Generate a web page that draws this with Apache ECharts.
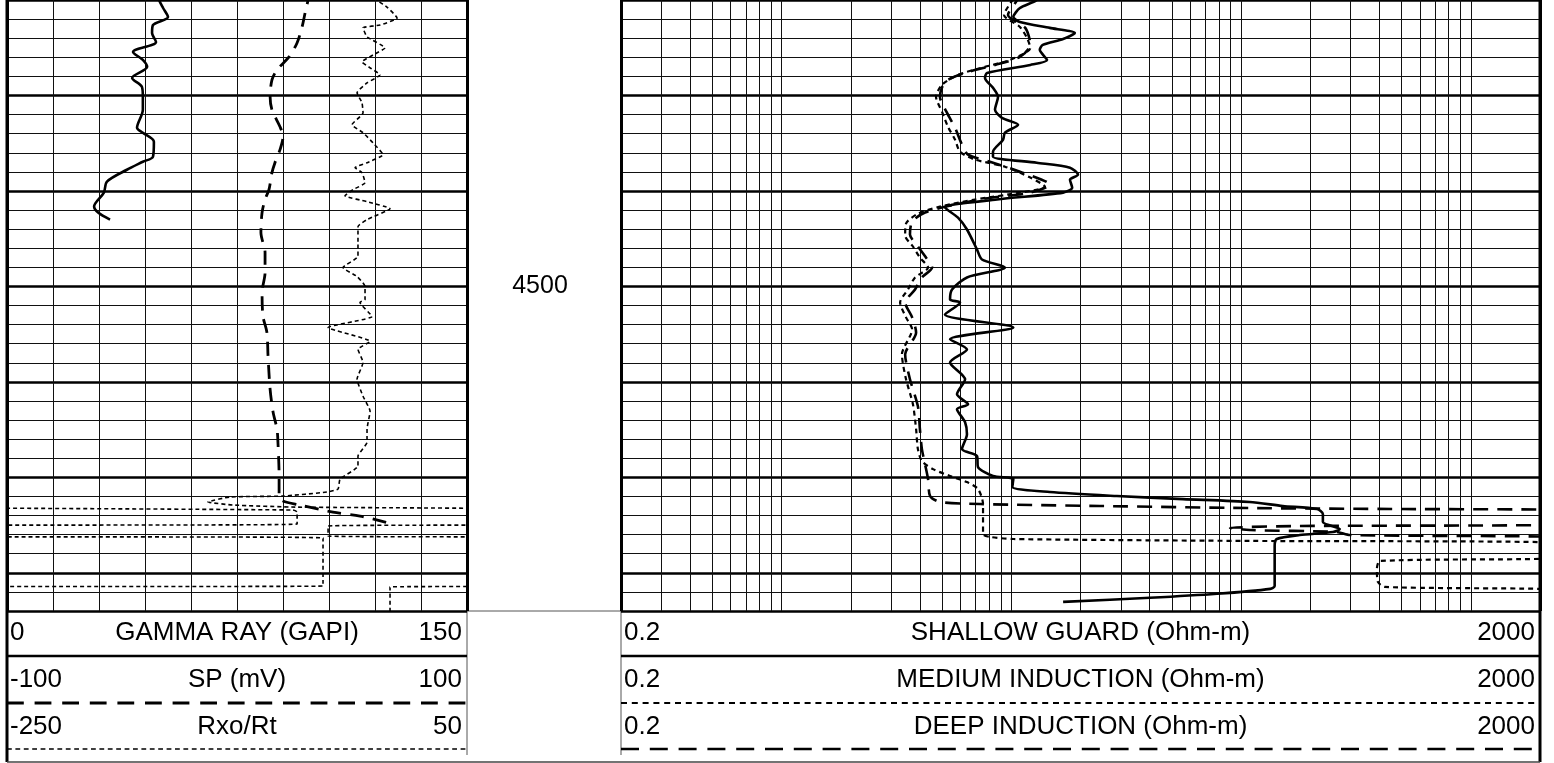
<!DOCTYPE html>
<html>
<head>
<meta charset="utf-8">
<script src="https://cdn.jsdelivr.net/npm/echarts@6/dist/echarts.min.js"></script>
<style>
  html, body { margin: 0; padding: 0; background: #fff; }
  #chart { width: 1554px; height: 763px; }
</style>
</head>
<body>
<div id="chart"></div>
<script>
// depth window (ft)
const DEPTH_TOP = 4485
const DEPTH_BOTTOM = 4517
const DEPTH_LABEL = 4500

// track 1 scales
const T1_NAMES = ['GAMMA RAY (GAPI)', 'SP (mV)', 'Rxo/Rt']
const T1_MIN = [0, -100, -250]
const T1_MAX = [150, 100, 50]

// track 2 scales (log)
const T2_NAMES = ['SHALLOW GUARD (Ohm-m)', 'MEDIUM INDUCTION (Ohm-m)', 'DEEP INDUCTION (Ohm-m)']
const T2_MIN = [0.2, 0.2, 0.2]
const T2_MAX = [2000, 2000, 2000]
const LOG_GRID = [0.3, 0.4, 0.5, 0.6, 0.7, 0.8, 0.9, 1, 2, 3, 4, 5, 6, 7, 8, 9, 10, 20, 30, 40, 50, 60, 70, 80, 90,
  100, 200, 300, 400, 500, 600, 700, 800, 900, 1000]

// curves: [value, depth]
const GR = [[48.9,4484.5],[49.6,4485.00],[50.9,4485.42],[52.5,4485.89],[47.6,4486.31],[47.3,4486.73],[48.6,4487.20],
  [41.1,4487.72],[44.3,4488.14],[45.7,4488.50],[40.8,4489.08],[44.0,4489.55],[44.3,4490.07],[44.3,4490.75],
  [42.4,4491.69],[44.3,4491.95],[47.9,4492.42],[47.6,4493.21],[44.3,4493.47],[39.1,4493.89],[32.6,4494.51],
  [31.6,4495.09],[28.4,4495.82],[29.7,4496.13],[33.6,4496.50]]

const SP = [[31.5,4484.5],[30.9,4485.00],[29.6,4485.68],[28.3,4486.41],[26.1,4487.25],[22.6,4487.98],[17.4,4488.66],
  [15.2,4489.18],[14.4,4490.07],[15.2,4490.75],[18.7,4491.64],[20.0,4492.16],[18.7,4492.84],[16.5,4493.52],
  [15.2,4494.04],[13.9,4494.93],[12.2,4495.45],[10.9,4496.13],[10.4,4497.18],[12.2,4498.23],[12.2,4499.27],
  [10.9,4500.32],[11.3,4501.57],[13.0,4502.41],[13.5,4503.66],[14.4,4505.39],[15.7,4506.59],[17.4,4507.48],
  [17.8,4508.16],[18.3,4509.93],[18.3,4510.98],[20.0,4511.24],[27.4,4511.45],[41.7,4511.82],[53.5,4512.03],
  [64.4,4512.34],[67.0,4512.42]]

const RXO_RT = [[-12.0,4484.5],[-8.7,4485.00],[-2.2,4485.37],[4.4,4485.94],[-6.7,4486.31],[-17.8,4486.46],
  [-15.2,4486.93],[-3.5,4487.51],[-11.3,4487.88],[-18.5,4488.24],[-13.2,4488.55],[-6.7,4488.92],[-15.2,4489.34],
  [-21.7,4489.86],[-18.5,4490.38],[-17.8,4490.91],[-25.0,4491.53],[-17.8,4491.95],[-11.3,4492.48],[-4.8,4493.10],
  [-15.2,4493.52],[-23.0,4493.78],[-18.5,4494.04],[-16.5,4494.57],[-24.3,4494.93],[-29.6,4495.25],[-15.2,4495.56],
  [-0.2,4495.93],[-15.2,4496.50],[-21.1,4496.87],[-21.1,4497.91],[-21.1,4498.43],[-30.9,4499.01],[-21.7,4499.48],
  [-16.5,4500.00],[-16.5,4500.68],[-19.8,4500.84],[-11.9,4501.57],[-40.6,4502.15],[-13.2,4502.88],[-21.1,4503.30],
  [-17.8,4503.98],[-21.7,4504.86],[-17.8,4505.75],[-13.2,4506.54],[-15.2,4507.48],[-15.2,4508.16],[-21.1,4508.89],
  [-21.1,4509.41],[-32.8,4510.09],[-34.1,4510.61],[-41.3,4510.77],[-70.0,4510.98],[-104.6,4511.03],[-118.9,4511.29],
  [-102.6,4511.45],[-60.9,4511.56],[236.5,4511.71],[239.2,4511.82],[239.2,4512.44],[-40.6,4512.55],[-40.6,4513.07],
  [256.1,4513.18],[256.1,4515.69],[-0.2,4515.74],[-0.2,4517.2]]

const SHALLOW = [[13.5,4484.5],[12.9,4485.00],[10.9,4485.42],[10.2,4485.89],[10.9,4486.15],[14.7,4486.46],
  [18.9,4486.73],[16.8,4487.04],[13.7,4487.35],[13.3,4487.61],[14.3,4488.14],[12.1,4488.40],[7.84,4488.82],
  [7.68,4489.08],[8.32,4489.60],[8.75,4490.07],[8.49,4490.75],[9.10,4491.17],[10.7,4491.53],[9.38,4491.95],
  [9.20,4492.32],[8.32,4492.95],[8.32,4493.21],[12.9,4493.52],[18.0,4493.78],[19.5,4494.15],[18.0,4494.41],
  [18.4,4494.83],[16.8,4495.09],[8.66,4495.45],[5.14,4495.87],[5.86,4496.40],[6.41,4497.02],[7.09,4498.07],
  [7.45,4498.59],[9.38,4499.01],[6.41,4499.53],[5.52,4500.16],[5.41,4500.68],[5.98,4500.84],[5.14,4501.47],
  [10.2,4502.15],[5.41,4502.77],[6.41,4503.30],[5.41,4503.98],[6.29,4504.86],[5.80,4505.65],[6.48,4506.17],
  [5.80,4506.43],[6.29,4507.11],[6.41,4507.74],[6.10,4508.52],[7.09,4508.89],[7.16,4509.46],[8.32,4509.93],
  [10.2,4510.09],[10.1,4510.51],[14.7,4510.77],[28.8,4510.98],[55.9,4511.14],[109,4511.29],[152,4511.50],
  [214,4511.66],[227,4511.92],[227,4512.34],[269,4512.71],[251,4512.86],[180,4513.02],[143,4513.23],
  [140,4513.59],[140,4515.69],[134,4515.84],[78.6,4516.10],[40.1,4516.31],[16.8,4516.52]]

const MEDIUM = [[10.5,4484.5],[10.1,4485.00],[9.29,4485.78],[10.9,4486.41],[11.7,4486.99],[12.1,4487.51],
  [9.87,4488.14],[7.68,4488.50],[5.86,4488.92],[4.99,4489.44],[4.70,4490.07],[4.99,4490.85],[5.30,4491.64],
  [5.69,4492.32],[5.98,4492.95],[6.95,4493.36],[9.38,4493.73],[12.1,4494.30],[14.0,4494.78],[10.9,4495.09],
  [6.95,4495.45],[4.89,4495.82],[3.92,4496.19],[3.48,4496.71],[3.45,4497.34],[3.73,4497.91],[4.00,4498.49],
  [4.34,4499.01],[3.81,4499.53],[3.55,4500.16],[3.28,4500.84],[3.48,4501.62],[3.70,4502.25],[3.34,4503.56],
  [3.48,4504.86],[3.73,4506.17],[3.85,4507.48],[3.92,4508.52],[4.08,4509.15],[4.56,4509.57],[5.41,4509.93],
  [6.41,4510.25],[7.16,4510.61],[7.53,4511.40],[7.53,4512.97],[8.07,4513.12],[10.2,4513.23],[109,4513.33],
  [2000,4513.39],[9000,4513.7],[9000,4514.0],[2000,4514.27],[402,4514.38],[390,4514.80],[394,4515.48],
  [423,4515.74],[2000,4515.84],[9000,4516.1]]

const DEEP = [[11.0,4484.5],[10.6,4485.00],[9.67,4485.78],[11.5,4486.46],[12.1,4487.35],[10.9,4487.98],
  [8.49,4488.40],[6.29,4488.82],[5.14,4489.29],[4.89,4490.07],[5.25,4490.91],[5.69,4491.69],[6.10,4492.58],
  [6.48,4493.10],[8.07,4493.47],[10.9,4493.99],[14.7,4494.67],[12.1,4495.09],[7.68,4495.40],[5.41,4495.77],
  [4.21,4496.13],[3.70,4496.60],[3.62,4497.28],[3.92,4497.91],[4.25,4498.49],[4.52,4499.01],[4.08,4499.53],
  [3.81,4500.16],[3.45,4500.84],[3.70,4501.62],[3.85,4502.41],[3.45,4503.56],[3.62,4504.86],[3.92,4506.28],
  [4.00,4507.48],[4.08,4508.52],[4.21,4509.31],[4.34,4510.09],[4.43,4510.98],[4.89,4511.29],[7.30,4511.40],
  [24.3,4511.50],[109,4511.61],[492,4511.66],[2000,4511.69],[9000,4511.9],[9000,4512.3],[2000,4512.50],
  [180,4512.55],[89.5,4512.65],[109,4512.76],[261,4512.86],[298,4513.02],[2000,4513.10],[9000,4513.3]]

// ── styles ────────────────────────────────────────────
const FONT = '"Liberation Sans", Arial, sans-serif'
const FONT_SIZE = 26
const THIN = { color: '#111', width: 1 }
const THICK = { color: '#000', width: 2.5 }
const T1_STYLE = [
  { width: 2.6, type: 'solid', smooth: 0.3 },
  { width: 2.8, type: [14, 9], smooth: 0.3 },
  { width: 1.6, type: [4, 3], smooth: 0.15 },
]
const T2_STYLE = [
  { width: 2.6, type: 'solid', smooth: 0.25 },
  { width: 2.2, type: [5, 4], smooth: 0.25 },
  { width: 2.6, type: [15, 9], smooth: 0.25 },
]

const chart = echarts.init(document.getElementById('chart'), null, { renderer: 'canvas' })

const hidden = { axisLine: { show: false }, axisTick: { show: false }, axisLabel: { show: false }, splitLine: { show: false } }
const gridOnly = (ls) => ({
  axisLine: { show: false }, axisTick: { show: false }, axisLabel: { show: false },
  splitLine: { show: true, lineStyle: { color: ls.color, width: ls.width } },
})
const depthAxis = (gi, step, ls) => ({
  gridIndex: gi, type: 'value', inverse: true, min: DEPTH_TOP, max: DEPTH_BOTTOM, interval: step, ...gridOnly(ls),
})

function curve(name, data, xi, yi, st) {
  return {
    type: 'line', name, data, xAxisIndex: xi, yAxisIndex: yi, symbol: 'none', clip: true, z: 5,
    smooth: st.smooth,
    lineStyle: { color: '#000', width: st.width, type: st.type, cap: 'butt', join: 'round' },
    silent: true,
  }
}

// legend rows
const ROW_TEXT_Y = [633, 680, 727]
const ROW_LINE_Y = [656, 703, 749]
function legendCell(names, mins, maxs, styles, x0, x1) {
  const els = []
  names.forEach((n, i) => {
    const ty = ROW_TEXT_Y[i]
    const txt = (text, x, align) => ({
      type: 'text', silent: true,
      style: { text, x, y: ty, font: FONT_SIZE + 'px ' + FONT, fill: '#000', textAlign: align, textVerticalAlign: 'middle', align, verticalAlign: 'middle' },
    })
    els.push(txt(String(mins[i]), x0 + 3, 'left'))
    els.push(txt(n, (x0 + x1) / 2, 'center'))
    els.push(txt(String(maxs[i]), x1 - 5, 'right'))
    const st = styles[i]
    els.push({
      type: 'line', silent: true,
      shape: { x1: x0, y1: ROW_LINE_Y[i], x2: x1, y2: ROW_LINE_Y[i] },
      style: { stroke: '#000', lineWidth: st.width, lineDash: st.type === 'solid' ? null : st.type.map(v => v * 1.2) },
    })
  })
  return els
}

const frame = [
  { type: 'line', shape: { x1: 7, y1: 0, x2: 7, y2: 762 }, style: { stroke: '#000', lineWidth: 3 } },
  { type: 'line', shape: { x1: 1540, y1: 0, x2: 1540, y2: 762 }, style: { stroke: '#000', lineWidth: 3 } },
  { type: 'line', shape: { x1: 7, y1: 762, x2: 1540, y2: 762 }, style: { stroke: '#444', lineWidth: 1.5 } },
  { type: 'line', shape: { x1: 467, y1: 611, x2: 467, y2: 755 }, style: { stroke: '#555', lineWidth: 1 } },
  { type: 'line', shape: { x1: 621, y1: 611, x2: 621, y2: 755 }, style: { stroke: '#555', lineWidth: 1 } },
  { type: 'line', shape: { x1: 467, y1: 611, x2: 621, y2: 611 }, style: { stroke: '#555', lineWidth: 1 } },
].map(e => ({ ...e, silent: true }))

const option = {
  animation: false,
  backgroundColor: '#fff',
  grid: [
    { left: 7, top: -1, width: 460, height: 612 },
    { left: 621, top: -1, width: 919, height: 612 },
    { left: 540, top: -1, width: 1, height: 612 },
  ],
  xAxis: [
    { gridIndex: 0, type: 'value', min: T1_MIN[0], max: T1_MAX[0], interval: (T1_MAX[0] - T1_MIN[0]) / 10, ...gridOnly(THIN) },
    { gridIndex: 0, type: 'value', min: T1_MIN[1], max: T1_MAX[1], ...hidden },
    { gridIndex: 0, type: 'value', min: T1_MIN[2], max: T1_MAX[2], ...hidden },
    // wrap-around backup scale for Rxo/Rt
    { gridIndex: 0, type: 'value', min: T1_MAX[2], max: 2 * T1_MAX[2] - T1_MIN[2], ...hidden },
    { gridIndex: 1, type: 'log', logBase: 10, min: T2_MIN[0], max: T2_MAX[0], ...hidden },
    { gridIndex: 0, type: 'value', min: 0, max: 1, interval: 1, ...gridOnly({ color: '#000', width: 3 }) },
    { gridIndex: 1, type: 'value', min: 0, max: 1, interval: 1, ...gridOnly({ color: '#000', width: 3 }) },
    { gridIndex: 2, type: 'value', min: 0, max: 1, ...hidden },
  ],
  yAxis: [
    depthAxis(0, 1, THIN),
    depthAxis(1, 1, THIN),
    depthAxis(0, 5, THICK),
    depthAxis(1, 5, THICK),
    {
      gridIndex: 2, type: 'value', inverse: true, min: DEPTH_TOP, max: DEPTH_BOTTOM, interval: 5,
      axisLine: { show: false }, axisTick: { show: false }, splitLine: { show: false },
      axisLabel: {
        show: true, margin: 0, align: 'center', color: '#000', fontSize: 25, fontFamily: FONT,
        formatter: v => (v === DEPTH_LABEL ? String(DEPTH_LABEL) : ''),
      },
    },
  ],
  series: [
    {
      type: 'line', data: [], xAxisIndex: 4, yAxisIndex: 1, symbol: 'none', silent: true, z: 1,
      markLine: {
        silent: true, symbol: ['none', 'none'], label: { show: false }, animation: false,
        lineStyle: { color: THIN.color, width: 1, type: 'solid' },
        emphasis: { disabled: true },
        data: LOG_GRID.map(v => ({ xAxis: v })),
      },
    },
    curve(T1_NAMES[0], GR, 0, 0, T1_STYLE[0]),
    curve(T1_NAMES[1], SP, 1, 0, T1_STYLE[1]),
    curve(T1_NAMES[2], RXO_RT, 2, 0, T1_STYLE[2]),
    curve(T1_NAMES[2] + ' backup', RXO_RT, 3, 0, T1_STYLE[2]),
    curve(T2_NAMES[0], SHALLOW, 4, 1, T2_STYLE[0]),
    curve(T2_NAMES[1], MEDIUM, 4, 1, T2_STYLE[1]),
    curve(T2_NAMES[2], DEEP, 4, 1, T2_STYLE[2]),
  ],
  graphic: [
    ...frame,
    ...legendCell(T1_NAMES, T1_MIN, T1_MAX, T1_STYLE, 7, 467),
    ...legendCell(T2_NAMES, T2_MIN, T2_MAX, T2_STYLE, 621, 1540),
  ],
}

chart.setOption(option)
</script>
</body>
</html>
